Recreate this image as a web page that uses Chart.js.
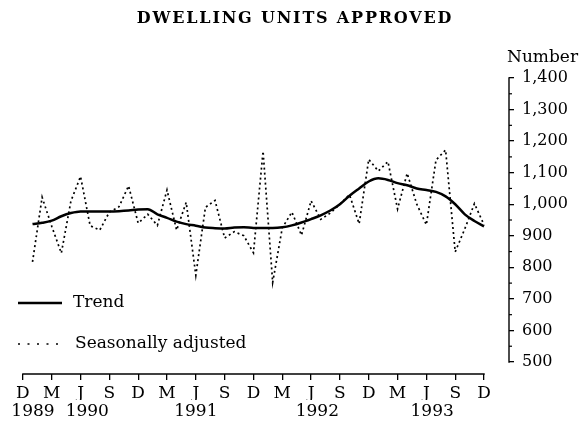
<!DOCTYPE html>
<html><head><meta charset="utf-8">
<script src="https://cdn.jsdelivr.net/npm/chart.js@4.4.1/dist/chart.umd.min.js"></script>
<style>html,body{margin:0;padding:0;background:#fff}#wrap{width:584px;height:427px}</style>
</head><body><div id="wrap"><canvas id="c" width="584" height="427"></canvas></div>
<script>
const titleText = 'DWELLING UNITS APPROVED';
const unitLabel = 'Number';
const seriesNames = ['Trend', 'Seasonally adjusted'];
// months counted from December 1989 (0) -> data Jan 1990 .. Dec 1993
const months = [1,2,3,4,5,6,7,8,9,10,11,12,13,14,15,16,17,18,19,20,21,22,23,24,
                25,26,27,28,29,30,31,32,33,34,35,36,37,38,39,40,41,42,43,44,45,46,47,48];
const trend = [937,941,948,962,972,977,977,977,977,978,980,983,
               984,968,957,945,937,932,926,924,923,926,927,925,
               925,925,927,933,942,953,965,980,1000,1027,1050,1072,
               1082,1077,1067,1060,1050,1045,1039,1025,1000,968,947,930];
const seasAdj = [817,1022,930,845,1010,1088,932,918,975,992,1058,940,
                 968,933,1045,918,1006,775,990,1012,893,913,900,846,
                 1168,752,925,975,902,1011,952,972,1000,1030,938,1142,
                 1105,1135,985,1098,1000,935,1140,1172,849,922,1002,935];
const tickMonths = [0,3,6,9,12,15,18,21,24,27,30,33,36,39,42,45,48];
const tickLetters = ['D','M','J','S','D','M','J','S','D','M','J','S','D','M','J','S','D'];
const yearLabels = ['1989','1990','1991','1992','1993'];
const yearLabelPos = [1.05, 6.7, 18, 30.65, 42.6];
const yMajor = [500,600,700,800,900,1000,1100,1200,1300,1400];
const yMinor = [550,650,750,850,950,1050,1150,1250,1350];

const FONT = 'DejaVu Serif';

const decor = {
  id: 'decor',
  afterDraw(chart) {
    const {ctx, chartArea: a, scales: {x, y}} = chart;
    ctx.save();
    ctx.strokeStyle = '#000'; ctx.fillStyle = '#000';
    ctx.lineWidth = 1.4;
    ctx.beginPath();
    ctx.moveTo(x.getPixelForValue(tickMonths[0]) - 0.7, a.bottom);
    ctx.lineTo(x.getPixelForValue(tickMonths[tickMonths.length - 1]) + 0.7, a.bottom);
    ctx.stroke();
    ctx.beginPath();
    ctx.moveTo(a.right, y.getPixelForValue(yMajor[yMajor.length - 1]) - 0.7);
    ctx.lineTo(a.right, y.getPixelForValue(yMajor[0]) + 0.7);
    ctx.stroke();
    ctx.lineWidth = 1.2;
    yMinor.forEach(v => {
      const py = y.getPixelForValue(v);
      ctx.beginPath(); ctx.moveTo(a.right, py); ctx.lineTo(a.right + 3, py); ctx.stroke();
    });
    // title
    ctx.font = 'bold 16px "' + FONT + '"';
    ctx.letterSpacing = '1.8px';
    ctx.textAlign = 'center'; ctx.textBaseline = 'middle';
    ctx.fillText(titleText, 295, 19);
    ctx.letterSpacing = '0px';
    // unit label
    ctx.font = '17px "' + FONT + '"';
    ctx.textAlign = 'left';
    ctx.fillText(unitLabel, 507, 58);
    // legend
    const rows = [{y: 303, len: 44, tx: 73}, {y: 344, len: 44, tx: 75}];
    chart.data.datasets.forEach((ds, i) => {
      const r = rows[i];
      ctx.save();
      ctx.lineWidth = ds.borderWidth;
      ctx.setLineDash(i === 1 ? [2, 7.5] : []);
      ctx.beginPath(); ctx.moveTo(18, r.y); ctx.lineTo(18 + r.len, r.y); ctx.stroke();
      ctx.restore();
      ctx.font = '17px "' + FONT + '"';
      ctx.textAlign = 'left'; ctx.textBaseline = 'middle';
      ctx.fillText(ds.label, r.tx, r.y);
    });
    ctx.restore();
  }
};

new Chart(document.getElementById('c'), {
  type: 'line',
  data: {
    datasets: [
      {label: seriesNames[0], data: months.map((m, i) => ({x: m, y: trend[i]})),
       borderColor: '#000', borderWidth: 2.5, pointRadius: 0, cubicInterpolationMode: 'monotone', fill: false},
      {label: seriesNames[1], data: months.map((m, i) => ({x: m, y: seasAdj[i]})),
       borderColor: '#000', borderWidth: 1.7, borderDash: [2, 3], pointRadius: 0, tension: 0, fill: false}
    ]
  },
  options: {
    responsive: false, animation: false, devicePixelRatio: 1,
    layout: {padding: {left: 18, top: 78, right: 0, bottom: 0}},
    plugins: {legend: {display: false}, title: {display: false}, tooltip: {enabled: false}},
    scales: {
      x: {
        type: 'linear', position: 'bottom', weight: 0, min: -0.51, max: 50.6,
        afterBuildTicks: s => { s.ticks = tickMonths.map(v => ({value: v})); },
        afterFit: s => { s.height = 26; },
        grid: {display: true, drawOnChartArea: false, drawTicks: true, tickLength: 6, color: '#000', lineWidth: 1.3},
        border: {display: false},
        ticks: {autoSkip: false, maxRotation: 0, color: '#000', padding: 4,
                font: {family: FONT, size: 17, lineHeight: 1.1},
                callback: (v, i) => tickLetters[i]}
      },
      xYears: {
        type: 'linear', position: 'bottom', weight: 1, min: -0.51, max: 50.6,
        afterBuildTicks: s => { s.ticks = yearLabelPos.map(v => ({value: v})); },
        afterFit: s => { s.height = 27; },
        grid: {display: false, drawTicks: false},
        border: {display: false},
        ticks: {autoSkip: false, maxRotation: 0, color: '#000', padding: 2,
                font: {family: FONT, size: 17, lineHeight: 1.1},
                callback: (v, i) => yearLabels[i]}
      },
      y: {
        type: 'linear', position: 'right', min: 462, max: 1400,
        afterBuildTicks: s => { s.ticks = yMajor.map(v => ({value: v})); },
        afterFit: s => { s.width = 75; },
        grid: {display: true, drawOnChartArea: false, drawTicks: true, tickLength: 5, color: '#000', lineWidth: 1.3},
        border: {display: false},
        ticks: {autoSkip: false, color: '#000', padding: 8,
                font: {family: FONT, size: 16},
                callback: v => v.toLocaleString('en-US')}
      }
    }
  },
  plugins: [decor]
});
</script></body></html>
